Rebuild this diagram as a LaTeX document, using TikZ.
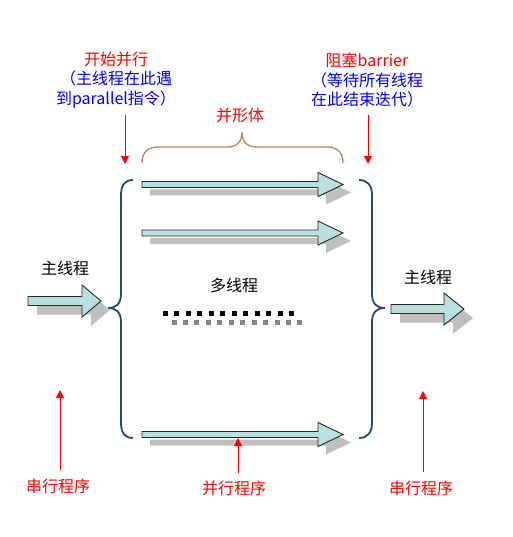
\documentclass[tikz,border=0pt]{standalone}
\usepackage{fontspec}
\setmainfont{Noto Sans CJK SC}
\usetikzlibrary{arrows.meta}
\definecolor{redtxt}{HTML}{FF0000}
\definecolor{bluetxt}{HTML}{0000FF}
\definecolor{navy}{HTML}{1F4A7A}
\definecolor{bracebrown}{HTML}{C0805E}
\definecolor{arrowfill}{HTML}{B9DFE1}
\definecolor{shadowgray}{HTML}{C0C0C0}
\definecolor{sqgray}{HTML}{858585}
\newcommand\barrow[7]{%
  \fill[shadowgray,shift={(#7,#7)}] (#1,#3-#4) -- (#2-#6,#3-#4) -- (#2-#6,#3-#5) -- (#2,#3) -- (#2-#6,#3+#5) -- (#2-#6,#3+#4) -- (#1,#3+#4) -- cycle;
  \draw[blockarrow] (#1,#3-#4) -- (#2-#6,#3-#4) -- (#2-#6,#3-#5) -- (#2,#3) -- (#2-#6,#3+#5) -- (#2-#6,#3+#4) -- (#1,#3+#4) -- cycle;}
\tikzset{
  blockarrow/.style={fill=arrowfill,draw=black!85,line width=0.9pt,line join=miter},
  lbl/.style={inner sep=0pt,font=\fontsize{16}{19.5}\selectfont,align=center},
  redlbl/.style={lbl,text=redtxt},
  redarr/.style={draw=redtxt,line width=1pt,-{Triangle[length=8pt,width=8pt]}},
  navybrace/.style={draw=navy,line width=1.8pt},
  brownbrace/.style={draw=bracebrown,line width=1.3pt},
}
\begin{document}
\begin{tikzpicture}[x=1pt,y=-1pt]
\useasboundingbox (0,0) rectangle (512,537);
% top labels
\node[lbl] (startlbl) at (116,80) {\textcolor{redtxt}{开始并行}\\\textcolor{bluetxt}{（主线程在此遇}\\\textcolor{bluetxt}{到parallel指令）}};
\node[lbl] (barrierlbl) at (367,80) {\textcolor{redtxt}{阻塞barrier}\\\textcolor{bluetxt}{（等待所有线程}\\\textcolor{bluetxt}{在此结束迭代）}};
\node[redlbl] (bingxing) at (240,115) {并形体};
% red arrows top
\coordinate (sA) at (125,115); \coordinate (sB) at (125,164);
\coordinate (bA) at (368,115); \coordinate (bB) at (368,164);
\draw[redarr] (sA) -- (sB);
\draw[redarr] (bA) -- (bB);
% brown brace
\draw[brownbrace] (142,163) .. controls (142,152) and (148,147) .. (158,147) -- (227,147) .. controls (237,147) and (242,142) .. (242,132) .. controls (242,142) and (247,147) .. (257,147) -- (327,147) .. controls (337,147) and (343,152) .. (343,163);
% navy braces
\draw[navybrace] (133,180) .. controls (125,180) and (121,185) .. (121,195) -- (121,294) .. controls (121,304) and (116,308) .. (108,308) .. controls (116,308) and (121,312) .. (121,322) -- (121,423) .. controls (121,433) and (125,438) .. (133,438);
\draw[navybrace] (359,180) .. controls (367,180) and (372,185) .. (372,195) -- (372,294) .. controls (372,304) and (377,308) .. (385,308) .. controls (377,308) and (372,312) .. (372,322) -- (372,423) .. controls (372,433) and (367,438) .. (359,438);
% block arrows
\barrow{142}{343}{184.5}{3}{12}{25}{8}
\barrow{142}{343}{233}{3}{12}{25}{8}
\barrow{142}{343}{434.5}{3}{12}{25}{8}
\barrow{28}{101}{301}{4.5}{16}{19}{9}
\barrow{391}{464}{309}{4.5}{16}{20}{9}
% labels
\node[lbl] (mainL) at (65,268) {主线程};
\node[lbl] (mainR) at (428,277) {主线程};
\node[lbl] (multi) at (234,285) {多线程};
% dotted rows
\foreach \i in {0,...,11} {
  \fill[sqgray] ({174+11.45*\i-2.5},319.5) rectangle ++(5,5);
  \fill[black] ({165.5+11.45*\i-2.5},310.5) rectangle ++(5,5);
}
% bottom labels
\node[redlbl] (serL) at (58,486) {串行程序};
\node[redlbl] (par) at (234,488) {并行程序};
\node[redlbl] (serR) at (421,488) {串行程序};
\coordinate (tL) at (60,390); \coordinate (tM) at (238,438); \coordinate (tR) at (423,391);
\draw[redarr] (serL.north -| tL) ++(0,-8) -- (tL);
\draw[redarr] (par.north -| tM) ++(0,-7) -- (tM);
\draw[redarr] (serR.north -| tR) ++(0,-8) -- (tR);
\end{tikzpicture}
\end{document}
